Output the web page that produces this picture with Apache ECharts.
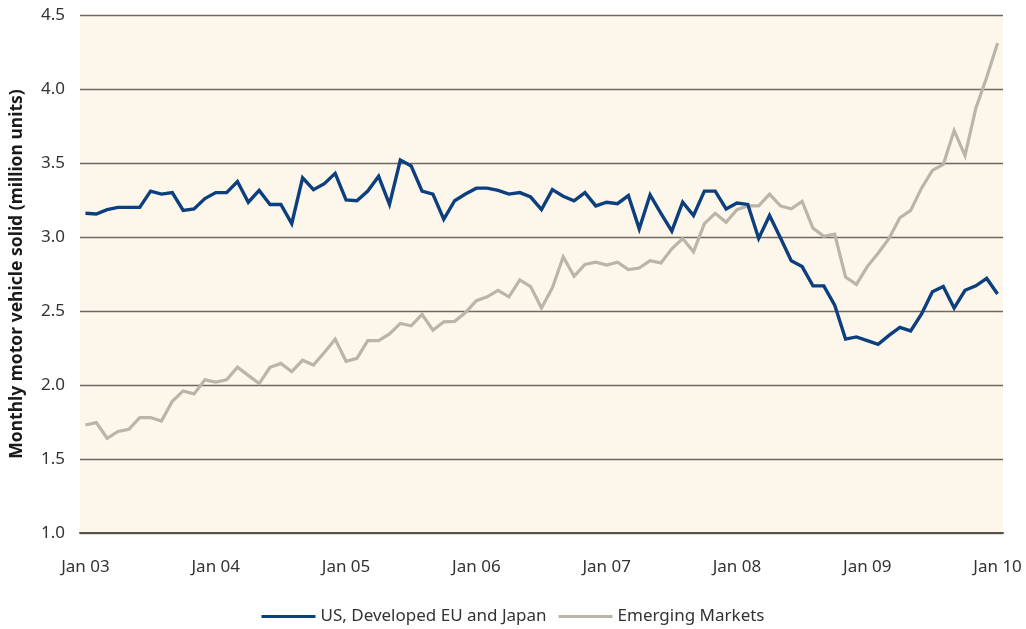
<!DOCTYPE html>
<html>
<head>
<meta charset="utf-8">
<script src="https://cdn.jsdelivr.net/npm/echarts@6/dist/echarts.min.js"></script>
<style>
  html, body { margin: 0; padding: 0; background: #fff; }
  #main { width: 1026px; height: 629px; }
</style>
</head>
<body>
<div id="main"></div>
<script>
// monthly values, Jan 03 .. Jan 10
var yearLabels = ['03', '04', '05', '06', '07', '08', '09', '10'];

var developed = [
  3.16, 3.155, 3.185, 3.20, 3.20, 3.20, 3.31, 3.29, 3.30, 3.18, 3.19, 3.26,
  3.30, 3.30, 3.375, 3.235, 3.315, 3.22, 3.22, 3.09, 3.40, 3.32, 3.36, 3.43,
  3.25, 3.245, 3.31, 3.41, 3.22, 3.52, 3.48, 3.31, 3.29, 3.12, 3.245, 3.29,
  3.33, 3.33, 3.315, 3.29, 3.30, 3.27, 3.185, 3.32, 3.275, 3.245, 3.30, 3.21,
  3.235, 3.225, 3.28, 3.055, 3.285, 3.16, 3.04, 3.235, 3.145, 3.31, 3.31, 3.19,
  3.23, 3.22, 2.99, 3.145, 2.995, 2.84, 2.80, 2.67, 2.67, 2.54, 2.31, 2.325,
  2.30, 2.275, 2.335, 2.39, 2.365, 2.48, 2.63, 2.665, 2.52, 2.64, 2.67, 2.72,
  2.615
];

var emerging = [
  1.73, 1.746, 1.64, 1.686, 1.70, 1.78, 1.78, 1.757, 1.89, 1.96, 1.94, 2.035,
  2.02, 2.035, 2.12, 2.065, 2.01, 2.12, 2.146, 2.09, 2.167, 2.135, 2.22, 2.31,
  2.16, 2.18, 2.30, 2.30, 2.345, 2.416, 2.40, 2.477, 2.37, 2.427, 2.43, 2.49,
  2.57, 2.596, 2.64, 2.596, 2.71, 2.665, 2.52, 2.657, 2.866, 2.735, 2.814, 2.83,
  2.81, 2.83, 2.78, 2.79, 2.84, 2.825, 2.92, 2.99, 2.90, 3.09, 3.16, 3.10,
  3.185, 3.21, 3.21, 3.29, 3.21, 3.19, 3.24, 3.06, 3.005, 3.02, 2.73, 2.68,
  2.80, 2.89, 2.99, 3.13, 3.18, 3.33, 3.45, 3.49, 3.72, 3.55, 3.87, 4.08,
  4.31
];

var months = [];
for (var i = 0; i < developed.length; i++) {
  var y = yearLabels[Math.floor(i / 12)];
  months.push(i % 12 === 0 ? 'Jan ' + y : 'M' + i);
}

var chart = echarts.init(document.getElementById('main'), null, { renderer: 'canvas' });
var font = '"Noto Sans", sans-serif';

var option = {
  animation: false,
  backgroundColor: '#ffffff',
  textStyle: { fontFamily: font },
  grid: {
    left: 79, right: 23, top: 15, bottom: 96,
    show: true,
    backgroundColor: '#fdf6ea',
    borderWidth: 0
  },
  legend: {
    top: 603,
    left: 'center',
    itemWidth: 54,
    itemHeight: 3,
    itemGap: 12,
    icon: 'rect',
    textStyle: { fontSize: 17, color: '#333', fontFamily: font },
    data: ['US, Developed EU and Japan', 'Emerging Markets']
  },
  xAxis: {
    type: 'category',
    data: months,
    boundaryGap: true,
    axisLine: { show: true, lineStyle: { color: '#57524c', width: 2 } },
    axisTick: { show: false },
    axisLabel: {
      interval: 11,
      margin: 26,
      fontSize: 17,
      color: '#333',
      fontFamily: font,
      formatter: function (v) { return v.indexOf('Jan') === 0 ? v : ''; }
    },
    splitLine: { show: false }
  },
  yAxis: {
    type: 'value',
    min: 1,
    max: 4.5,
    interval: 0.5,
    name: 'Monthly motor vehicle solid (million units)',
    nameLocation: 'middle',
    nameGap: 54,
    nameTextStyle: { fontSize: 17.5, fontWeight: 'bold', color: '#1a1a1a', fontFamily: font },
    axisLine: { show: false },
    axisTick: { show: false },
    axisLabel: {
      margin: 15,
      fontSize: 17,
      color: '#333',
      fontFamily: font,
      formatter: function (v) { return v.toFixed(1); }
    },
    splitLine: { show: true, lineStyle: { color: '#6e6860', width: 1.3 } }
  },
  series: [
    {
      name: 'US, Developed EU and Japan',
      type: 'line',
      data: developed,
      symbol: 'none',
      z: 3,
      itemStyle: { color: '#0b3f7e' },
      lineStyle: { color: '#0b3f7e', width: 3.4, join: 'miter' }
    },
    {
      name: 'Emerging Markets',
      type: 'line',
      data: emerging,
      symbol: 'none',
      z: 2,
      itemStyle: { color: '#bbb4a9' },
      lineStyle: { color: '#bbb4a9', width: 3.2, join: 'miter' }
    }
  ]
};

chart.setOption(option);
</script>
</body>
</html>
